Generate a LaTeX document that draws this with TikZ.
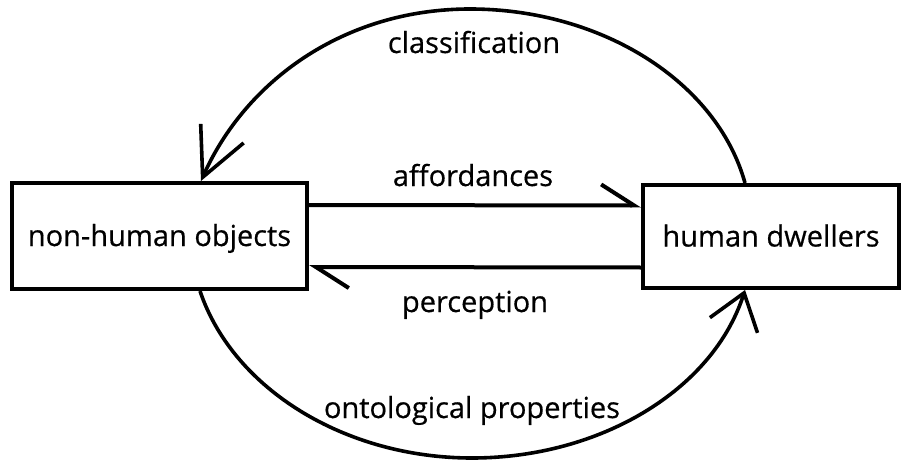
\documentclass[tikz,border=0pt]{standalone}
\usepackage{fontspec}
\setmainfont{Open Sans}[FakeBold=0.5]
\usetikzlibrary{arrows.meta}
\begin{document}
\begin{tikzpicture}[x=1pt,y=-1pt,
  boxnode/.style={draw, line width=4pt, rectangle, inner sep=0pt,
    text height=20pt, text depth=0pt, font=\fontsize{29}{31}\selectfont},
  lbl/.style={anchor=base, inner sep=0pt, font=\fontsize{29}{31}\selectfont},
  harp/.style={line width=4pt, -{Straight Barb[harpoon, length=33pt, width=42pt, line width=4pt]}},
  arcline/.style={line width=3.6pt}]
\useasboundingbox (0,0) rectangle (901,465);
\node[boxnode, minimum width=295pt, minimum height=106pt] (obj) at (159.5,236) {non-human objects};
\node[boxnode, minimum width=256pt, minimum height=103pt] (hum) at (771,236.5) {human dwellers};
% straight harpoons
\draw[harp] ([yshift=31pt]obj.east) -- ([yshift=31pt]hum.west);
\draw[harp] ([yshift=-31pt]hum.west) -- ([yshift=-31pt]obj.east);
% top arc (classification)
\draw[arcline, -{Straight Barb[length=48pt, width=47pt, line width=3.6pt]}]
  ([xshift=-26pt]hum.north) .. controls (717,82) and (602,9) .. (470,9)
  .. controls (343,9) and (245,82) .. ([xshift=41.5pt]obj.north);
% bottom arc (ontological properties)
\draw[arcline, -{Straight Barb[length=34pt, width=50pt, line width=3.6pt]}]
  ([xshift=40.5pt]obj.south) .. controls (233,389) and (345,458) .. (472,458)
  .. controls (600,458) and (713,390) .. ([xshift=-26pt]hum.south);
% labels
\node[lbl] (lcls) at (474,53) {classification};
\node[lbl] (laff) at (473,186) {affordances};
\node[lbl] (lper) at (475,312) {perception};
\node[lbl] (lont) at (472,418) {ontological properties};
\end{tikzpicture}
\end{document}
